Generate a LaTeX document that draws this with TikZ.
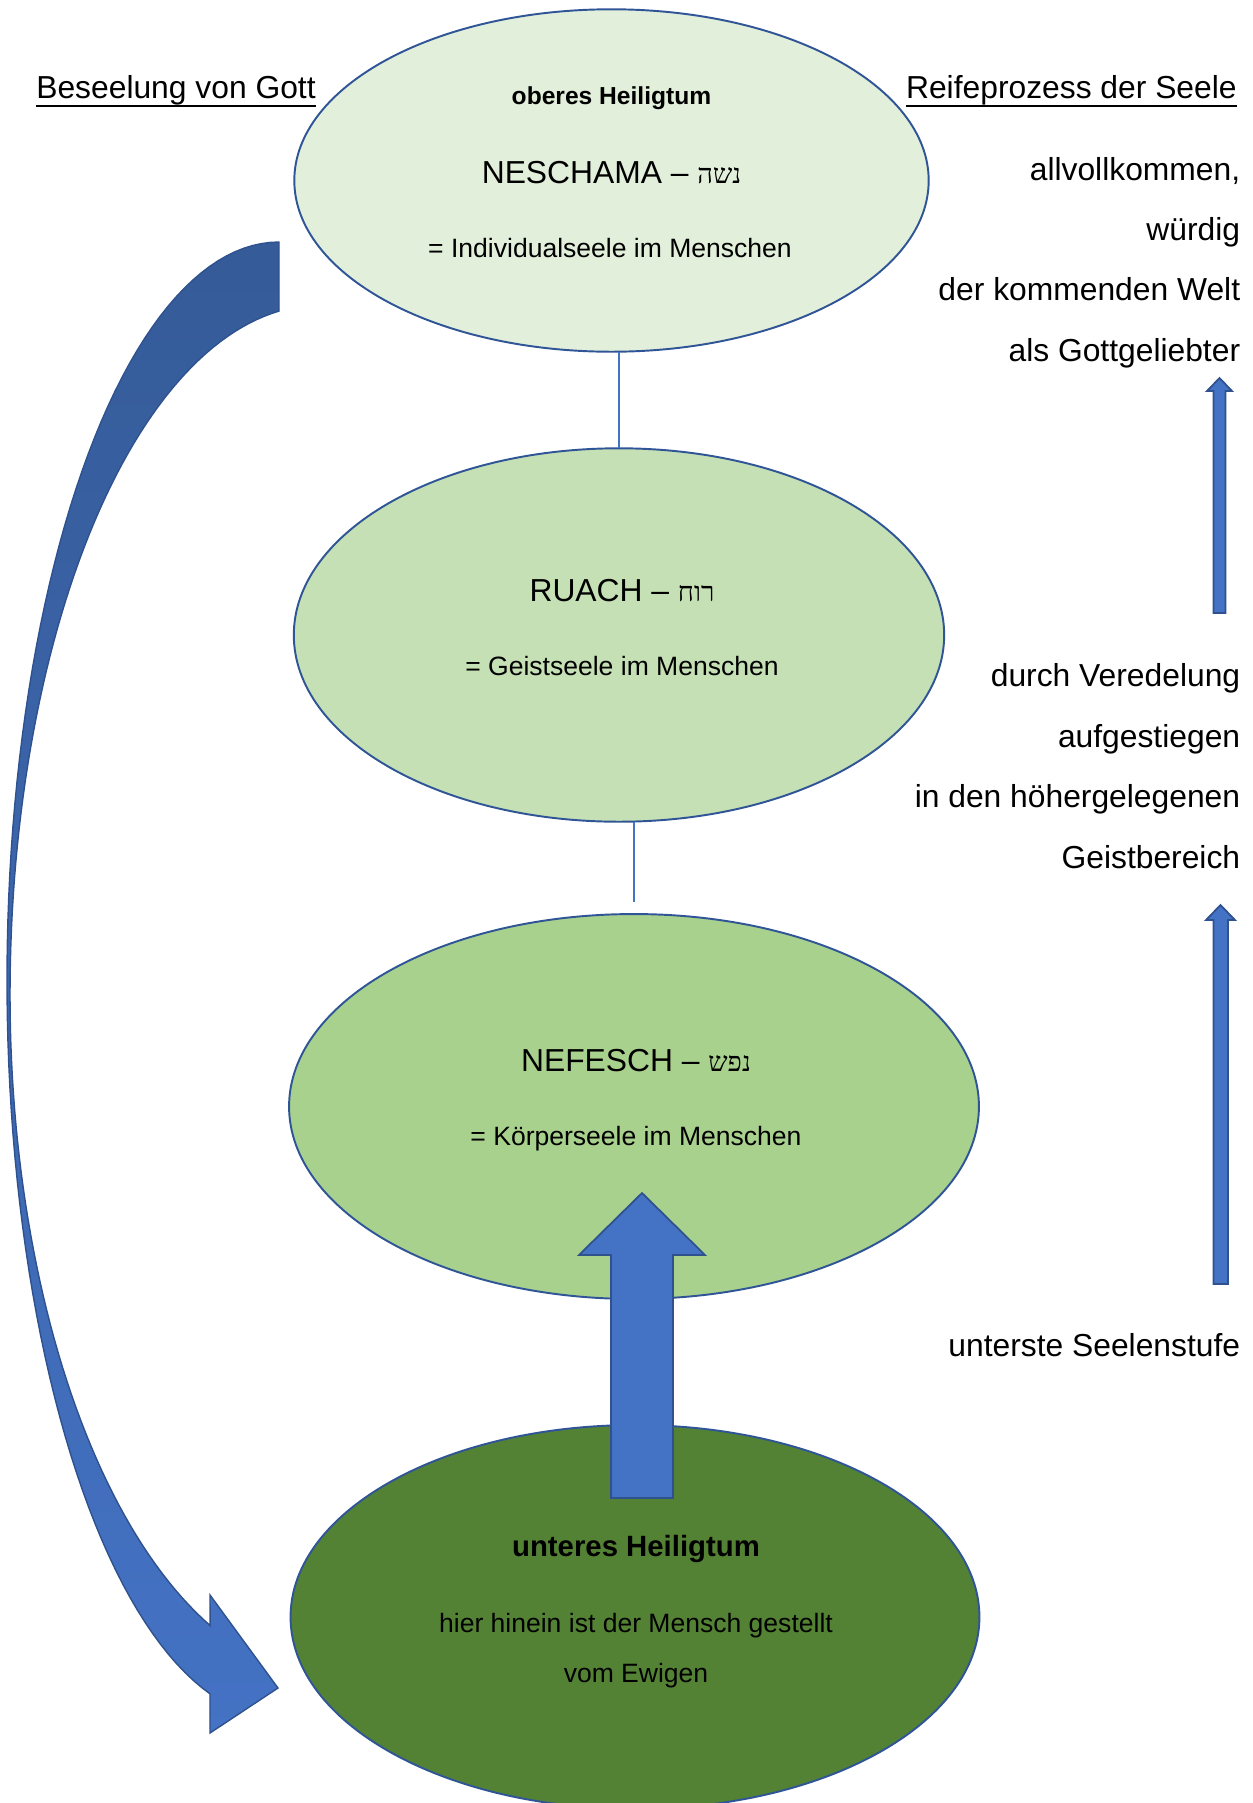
\documentclass[tikz,border=0pt]{standalone}
\usepackage{fontspec}
\setmainfont{Liberation Sans}
\newfontfamily\hebr[Script=Hebrew]{Liberation Serif}
\TeXXeTstate=1
\usetikzlibrary{shapes.geometric}

\definecolor{soulline}{HTML}{2F5597}
\definecolor{arrowblue}{HTML}{4472C4}
\definecolor{arrowline}{HTML}{2F528F}
\definecolor{curvedark}{HTML}{355B98}
\definecolor{neschfill}{HTML}{E2EFDA}
\definecolor{ruachfill}{HTML}{C5E0B4}
\definecolor{nefeschfill}{HTML}{A9D18E}
\definecolor{groundfill}{HTML}{548235}

\newcommand{\hebrword}[1]{{\hebr\fontsize{15.5}{18}\selectfont\beginR #1\endR}}

\tikzset{
  soul/.style={ellipse, draw=soulline, line width=1.1pt, inner sep=0pt, outer sep=0pt},
  bigtext/.style={font=\fontsize{18.1}{22}\selectfont, inner sep=0pt},
  smalltext/.style={font=\fontsize{15.1}{18}\selectfont, inner sep=0pt},
  blockarrow/.style={fill=arrowblue, draw=arrowline, line width=1pt, line join=miter},
  underline/.style={line width=1.1pt},
}

\begin{document}
\begin{tikzpicture}[x=0.02cm, y=-0.02cm]

\useasboundingbox (0,0) rectangle (1253,1803);

% the four stages of the soul
\node [soul, fill=neschfill, minimum width=12.69cm, minimum height=6.85cm] (nesch) at (611.5,180.5) {};
\node [soul, fill=ruachfill, minimum width=13.01cm, minimum height=7.47cm] (ruach) at (619,635) {};
\node [soul, fill=nefeschfill, minimum width=13.8cm, minimum height=7.7cm] (nefesch) at (634,1106.5) {};
\node [soul, fill=groundfill, minimum width=13.78cm, minimum height=7.68cm] (ground) at (635,1617) {};

\draw [arrowblue, line width=0.6pt] (nesch.south -| ruach.north) -- (ruach.north);
\draw [arrowblue, line width=0.6pt, shorten >=0.24cm] (ruach.south -| nefesch.north) -- (nefesch.north);

% texts inside
\node [anchor=base, inner sep=0pt, font=\bfseries\fontsize{14}{17}\selectfont] (upper) at (611.5,104) {oberes Heiligtum};
\node [bigtext, anchor=base] (neschname) at (611.5,183.5) {NESCHAMA -- \hebrword{נשה}};
\node [smalltext, anchor=base] (neschtext) at (610,257) {= Individualseele im Menschen};

\node [bigtext, anchor=base] (ruachname) at (622,601) {RUACH -- \hebrword{רוח}};
\node [smalltext, anchor=base] (ruachtext) at (622,675) {= Geistseele im Menschen};

\node [bigtext, anchor=base] (nefeschname) at (636,1071) {NEFESCH -- \hebrword{נפש}};
\node [smalltext, anchor=base] (nefeschtext) at (636,1145) {= Körperseele im Menschen};

\node [anchor=base, inner sep=0pt, font=\bfseries\fontsize{16.7}{20}\selectfont] (lower) at (636,1556) {unteres Heiligtum};
\node [smalltext, anchor=base] (groundtext) at (636,1632) {hier hinein ist der Mensch gestellt};
\node [smalltext, anchor=base] (groundtextb) at (636,1682) {vom Ewigen};

% headings
\node [bigtext, anchor=base west] (gott) at (36,98) {Beseelung von Gott};
\node [bigtext, anchor=base east] (reife) at (1237,98) {Reifeprozess der Seele};
\draw [underline] ([yshift=-0.16cm]gott.base west) -- ([yshift=-0.16cm]gott.base east);
\draw [underline] ([yshift=-0.16cm]reife.base west) -- ([yshift=-0.16cm]reife.base east);

% right column
\node [bigtext, anchor=base east] (r1) at (1240.5,180) {allvollkommen,};
\node [bigtext, anchor=base east] (r2) at (1240.5,240) {würdig};
\node [bigtext, anchor=base east] (r3) at (1240.5,300) {der kommenden Welt};
\node [bigtext, anchor=base east] (r4) at (1240.5,361) {als Gottgeliebter};

\node [bigtext, anchor=base east] (r5) at (1240.5,686) {durch Veredelung};
\node [bigtext, anchor=base east] (r6) at (1240.5,747) {aufgestiegen};
\node [bigtext, anchor=base east] (r7) at (1240.5,807) {in den höhergelegenen};
\node [bigtext, anchor=base east] (r8) at (1240.5,868) {Geistbereich};

\node [bigtext, anchor=base east] (r9) at (1240.5,1356) {unterste Seelenstufe};

% thin arrows on the right
\draw [blockarrow] (1213.5,613) -- (1213.5,391) -- (1207,391) -- (1219.5,378) -- (1232,391) -- (1225.5,391) -- (1225.5,613) -- cycle;
\draw [blockarrow] (1213.5,1284) -- (1213.5,920) -- (1206,920) -- (1220.5,905) -- (1235,920) -- (1228,920) -- (1228,1284) -- cycle;

% big arrow up into nefesch
\draw [blockarrow] (611,1498) -- (611,1255) -- (579,1255) -- (642,1193) -- (705,1255) -- (673,1255) -- (673,1498) -- cycle;

% curved arrow from god down to the lower sanctuary
\draw [top color=curvedark, bottom color=arrowblue, draw=arrowline, line width=0.8pt]
  (279,242) -- plot[domain=270:104.7, samples=90] ({279+272*cos(\x)},{980+738*sin(\x)})
  -- (210,1733) -- (278,1688) -- (210,1595)
  -- plot[domain=112.6:180, samples=50] ({335+325*cos(\x)},{995+683*sin(\x)})
  -- plot[domain=180:262.4, samples=60] ({320+310*cos(\x)},{995+690*sin(\x)})
  -- cycle;

\end{tikzpicture}
\end{document}
